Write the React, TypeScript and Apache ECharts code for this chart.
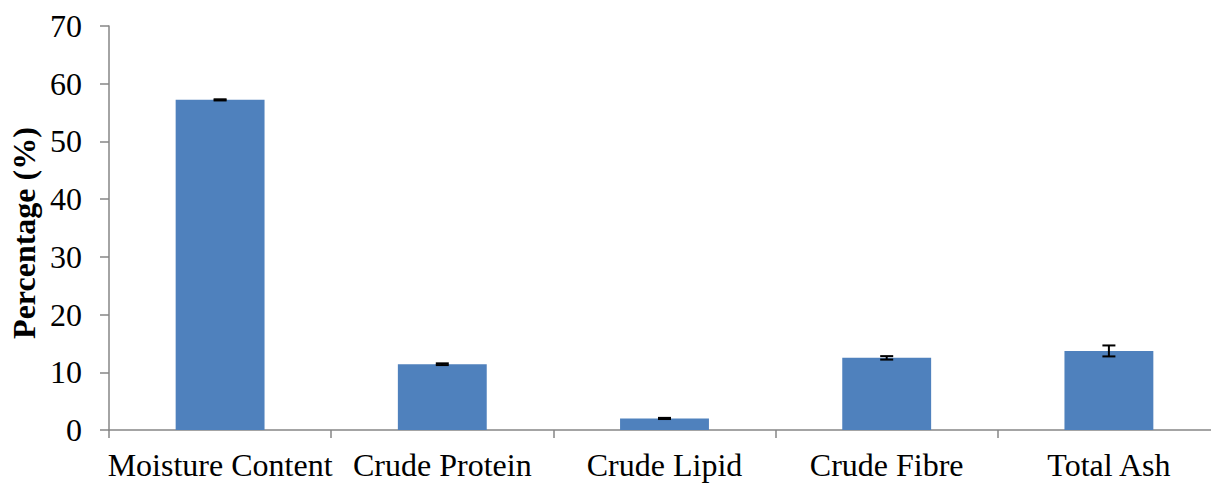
import React, { useEffect, useRef } from "react";
import * as echarts from "echarts";

const categories = ["Moisture Content", "Crude Protein", "Crude Lipid", "Crude Fibre", "Total Ash"];
const values = [57.2, 11.4, 2.0, 12.5, 13.7];
const errors = [0.1, 0.15, 0.1, 0.3, 0.95];
const yTicks = [0, 10, 20, 30, 40, 50, 60, 70];
const yAxisTitle = "Percentage (%)";

const FONT = "'Liberation Serif', 'Times New Roman', serif";

export default function App() {
  const ref = useRef<HTMLDivElement>(null);
  useEffect(() => {
    document.body.style.margin = "0";
    document.body.style.overflow = "hidden";
    const chart = echarts.init(ref.current!, undefined, { renderer: "svg" });
    const errData = values.map((v, i) => [i, v - errors[i], v + errors[i]]);
    chart.setOption({
      animation: false,
      backgroundColor: "#ffffff",
      grid: { left: 109, top: 26, height: 404, width: 1111, containLabel: false },
      graphic: [
        {
          type: "text",
          x: 24,
          y: 233,
          rotation: Math.PI / 2,
          style: {
            text: yAxisTitle,
            fill: "#000",
            font: `bold 32px ${FONT}`,
            align: "center",
            verticalAlign: "middle",
          },
        },
      ],
      xAxis: {
        type: "category",
        data: categories,
        axisLine: { lineStyle: { color: "#868686", width: 1.5 } },
        axisTick: { show: true, alignWithLabel: false, length: 8, lineStyle: { color: "#868686", width: 1.5 } },
        axisLabel: {
          color: "#000",
          fontFamily: FONT,
          fontSize: 32,
          margin: 19,
          interval: 0,
        },
      },
      yAxis: {
        type: "value",
        min: yTicks[0],
        max: yTicks[yTicks.length - 1],
        interval: 10,
        splitLine: { show: false },
        axisLine: { show: true, lineStyle: { color: "#868686", width: 1.5 } },
        axisTick: { show: true, length: 9, lineStyle: { color: "#868686", width: 1.5 } },
        axisLabel: {
          color: "#000",
          fontFamily: FONT,
          fontSize: 32,
          margin: 27,
        },
      },
      series: [
        {
          type: "bar",
          data: values,
          barWidth: "40%",
          itemStyle: { color: "#4F81BD" },
        },
        {
          type: "custom",
          data: errData,
          z: 10,
          renderItem: (params: any, api: any) => {
            const x = api.value(0);
            const lo = api.coord([x, api.value(1)]);
            const hi = api.coord([x, api.value(2)]);
            const half = 6.5;
            const style = { stroke: "#000", lineWidth: 2 };
            return {
              type: "group",
              children: [
                { type: "line", shape: { x1: lo[0], y1: lo[1], x2: hi[0], y2: hi[1] }, style },
                { type: "line", shape: { x1: lo[0] - half, y1: lo[1], x2: lo[0] + half, y2: lo[1] }, style },
                { type: "line", shape: { x1: hi[0] - half, y1: hi[1], x2: hi[0] + half, y2: hi[1] }, style },
              ],
            };
          },
        },
      ],
    });
    return () => chart.dispose();
  }, []);
  return (
    <div
      ref={ref}
      style={{ position: "fixed", left: 0, top: 0, width: 1222, height: 483 }}
    />
  );
}
